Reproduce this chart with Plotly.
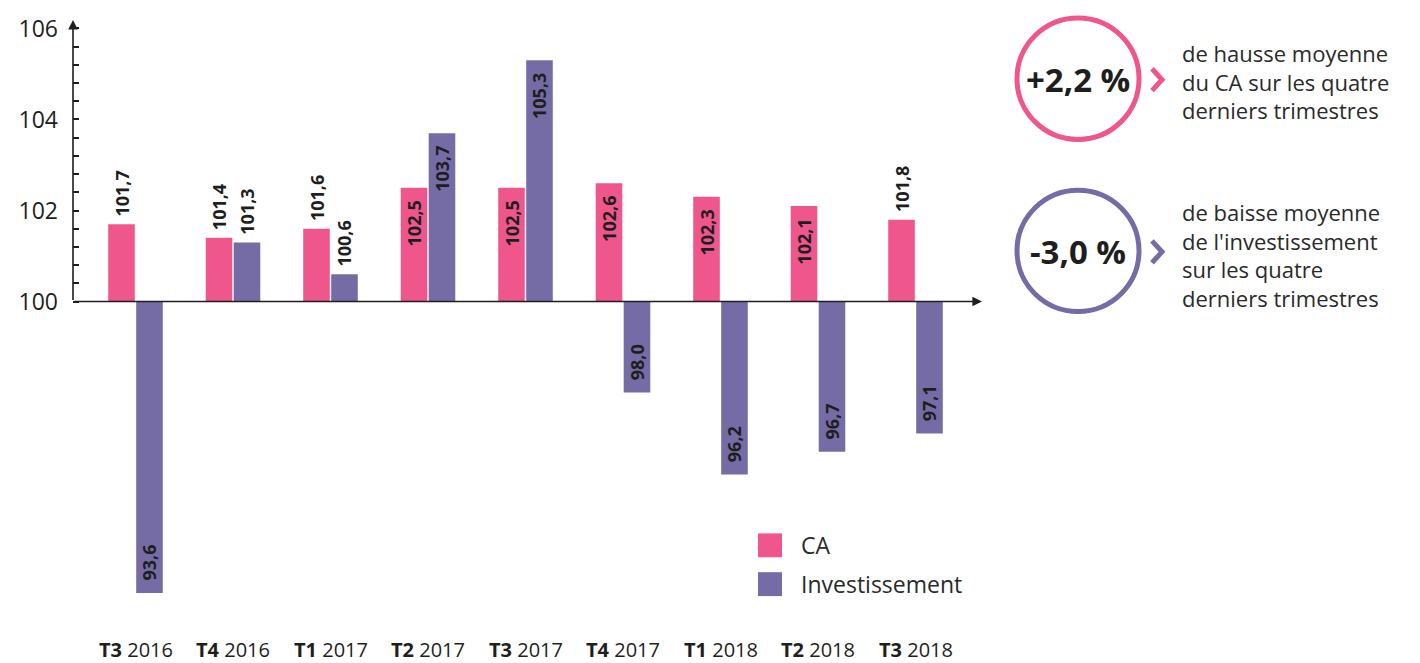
import plotly.graph_objects as go

# ---------------- data ----------------
quarters = ["T3", "T4", "T1", "T2", "T3", "T4", "T1", "T2", "T3"]
years = ["2016", "2016", "2017", "2017", "2017", "2017", "2018", "2018", "2018"]
ca = [101.7, 101.4, 101.6, 102.5, 102.5, 102.6, 102.3, 102.1, 101.8]
invest = [93.6, 101.3, 100.6, 103.7, 105.3, 98.0, 96.2, 96.7, 97.1]
base_value = 100
y_label_values = [100, 102, 104, 106]
series_names = ["CA", "Investissement"]
kpi_values = ["+2,2 %", "-3,0 %"]
kpi_texts = [
    ["de hausse moyenne", "du CA sur les quatre", "derniers trimestres"],
    ["de baisse moyenne", "de l'investissement", "sur les quatre", "derniers trimestres"],
]

# ---------------- style ----------------
PINK = "#EE568C"
PURPLE = "#756CA5"
INK = "#1E1E1E"
TXT = "#2A2A2A"
FONT = "Open Sans"
W, H = 1420, 663
L, R, T, B = 73, 982, 16, 611          # plot area in pixels
PX_PER_UNIT = 45.75
X0, XSTEP = 135.5, 97.5                # px of first category centre, px per category

y_lo = base_value - (B - 300) / PX_PER_UNIT
y_hi = base_value + (300 - T) / PX_PER_UNIT
x_lo = (L - X0) / XSTEP
x_hi = (R - X0) / XSTEP


def px(x):
    return (x - L) / (R - L)


def py(y):
    return (B - y) / (B - T)


cats = [f"{q} {y}" for q, y in zip(quarters, years)]
NB = "\u00a0"


def is_inside(v):
    return abs(v - base_value) >= 1.95


def label(v):
    s = f"{v:.1f}".replace(".", ",")
    if is_inside(v):
        return s + NB * 2 if v > base_value else NB * 2 + s
    return NB + s


colors = [PINK, PURPLE]
fig = go.Figure()
for name, vals, col in zip(series_names, [ca, invest], colors):
    fig.add_trace(go.Bar(
        name=name,
        x=cats,
        y=[v - base_value for v in vals],
        base=base_value,
        marker=dict(color=col, line=dict(width=0)),
        text=[label(v) for v in vals],
        textposition=["inside" if is_inside(v) else "outside" for v in vals],
        textangle=-90,
        constraintext="none",
        insidetextanchor="end",
        textfont=dict(family=FONT, size=18, color=INK, weight="bold"),
        insidetextfont=dict(family=FONT, size=18, color=INK, weight="bold"),
        outsidetextfont=dict(family=FONT, size=18, color=INK, weight="bold"),
        cliponaxis=False,
        customdata=[f"{v:.1f}".replace(".", ",") for v in vals],
        hovertemplate=name + " %{x}: %{customdata}<extra></extra>",
        showlegend=False,
    ))

tickvals = [round(base_value + 0.4 * k, 1) for k in range(0, 16)]
ticktext = [str(int(v)) if v in y_label_values else "" for v in tickvals]

annotations = []
shapes = []
# axis arrows
annotations.append(dict(x=x_hi, y=base_value, ax=x_lo, ay=base_value, xref="x", yref="y",
                        axref="x", ayref="y", showarrow=True, arrowhead=2, arrowsize=1.2,
                        arrowwidth=1.6, arrowcolor=INK, text=""))
annotations.append(dict(x=x_lo, y=y_hi - 0.02, ax=x_lo, ay=base_value, xref="x", yref="y",
                        axref="x", ayref="y", showarrow=True, arrowhead=2, arrowsize=1.2,
                        arrowwidth=1.6, arrowcolor=INK, text=""))
# category labels
for c, q, yr in zip(cats, quarters, years):
    annotations.append(dict(x=c, y=py(650), xref="x", yref="paper", showarrow=False,
                            text=f"<b>{q}</b> {yr}", font=dict(family=FONT, size=20, color=INK),
                            xanchor="center", yanchor="middle"))

# legend (drawn)
legend_rows = [545, 584]
for name, col, ly in zip(series_names, colors, legend_rows):
    shapes.append(dict(type="rect", xref="paper", yref="paper",
                       x0=px(758), x1=px(782), y0=py(ly + 12), y1=py(ly - 12),
                       fillcolor=col, line=dict(width=0)))
    annotations.append(dict(x=px(799), y=py(ly), xref="paper", yref="paper", showarrow=False,
                            text=name, xanchor="left", yanchor="middle",
                            font=dict(family=FONT, size=23, color=TXT)))

# KPI circles
circles = [(1078, 76, PINK), (1078, 249, PURPLE)]
for (cx, cy, col), val in zip(circles, kpi_values):
    r = 61
    shapes.append(dict(type="circle", xref="paper", yref="paper",
                       x0=px(cx - r), x1=px(cx + r), y0=py(cy + r), y1=py(cy - r),
                       line=dict(color=col, width=5)))
    annotations.append(dict(x=px(cx), y=py(cy + 1), xref="paper", yref="paper", showarrow=False,
                            text=f"<b>{val}</b>", font=dict(family=FONT, size=33, color=INK),
                            xanchor="center", yanchor="middle"))
    shapes.append(dict(type="path", xref="paper", yref="paper",
                       path=f"M {px(1152)} {py(cy - 10)} L {px(1162)} {py(cy + 1)} L {px(1152)} {py(cy + 12)}",
                       line=dict(color=col, width=5)))

# KPI descriptions (one multi-line text per block)
block_centres = [78.5, 253]
for yc, lines in zip(block_centres, kpi_texts):
    annotations.append(dict(x=px(1180), y=py(yc), xref="paper", yref="paper",
                            showarrow=False, text="<br>".join(lines), align="left",
                            xanchor="left", yanchor="middle",
                            font=dict(family=FONT, size=22, color=TXT)))

fig.update_layout(
    width=W, height=H, autosize=False,
    margin=dict(l=L, r=W - R, t=T, b=H - B, pad=0),
    paper_bgcolor="white", plot_bgcolor="white",
    barmode="group", bargap=0.426, bargroupgap=0.05,
    font=dict(family=FONT, color=INK),
    showlegend=False,
    xaxis=dict(range=[x_lo, x_hi], showticklabels=False, showgrid=False, zeroline=False,
               showline=False, ticks="", fixedrange=True),
    yaxis=dict(range=[y_lo, y_hi], tickvals=tickvals, ticktext=ticktext, ticks="inside",
               ticklen=6, tickwidth=1.5, tickcolor=INK, showgrid=False, zeroline=False,
               showline=False, tickfont=dict(family=FONT, size=23, color=INK),
               ticklabelstandoff=14, fixedrange=True),
    annotations=annotations,
    shapes=shapes,
)

fig.write_html("out.html")
